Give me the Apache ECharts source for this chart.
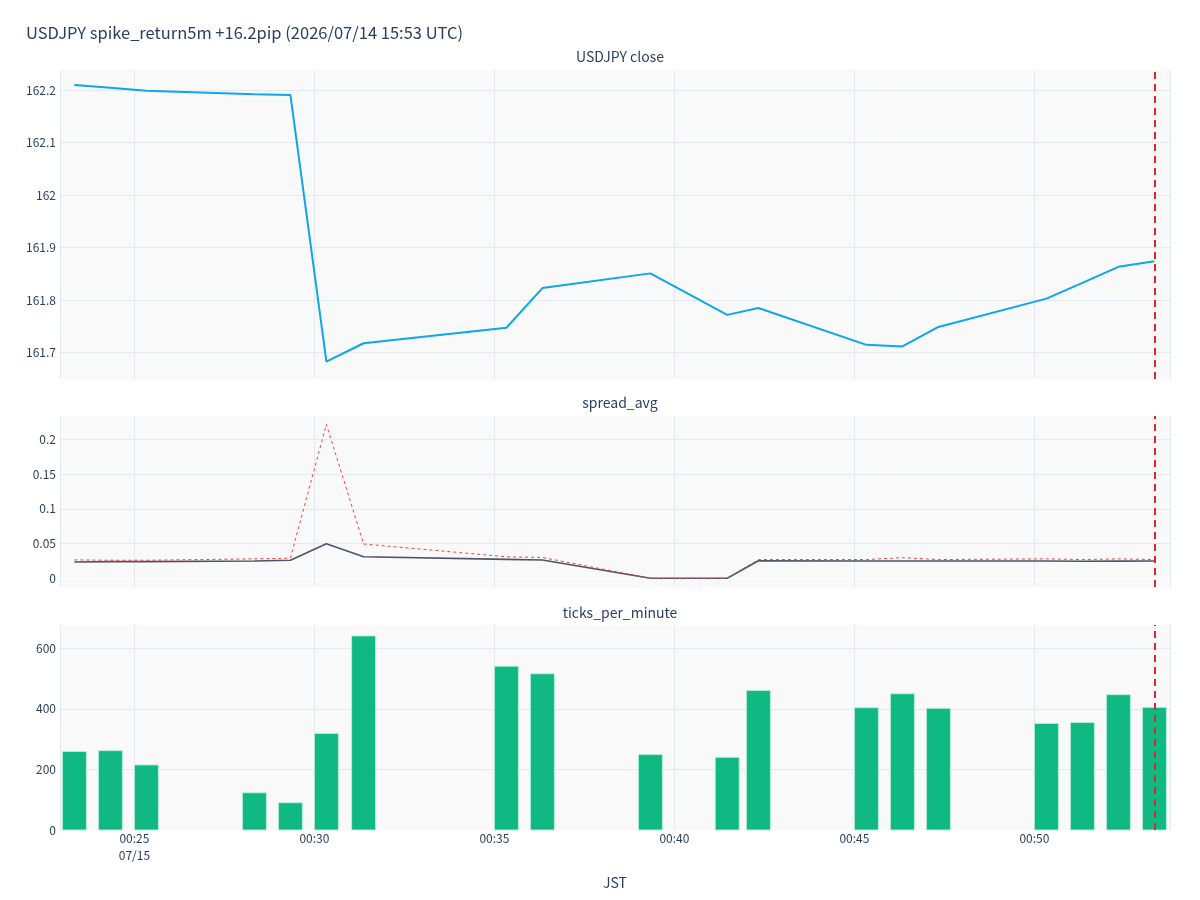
<!DOCTYPE html>
<html>
<head>
<meta charset="utf-8">
<script src="https://cdn.jsdelivr.net/npm/echarts@6/dist/echarts.min.js"></script>
<style>
  html, body { margin: 0; padding: 0; background: #fff; }
  #main { width: 1200px; height: 900px; }
</style>
</head>
<body>
<div id="main"></div>
<script>
// minute bars around the spike (JST)
const times = [
  "2026-07-15 00:23:20", "2026-07-15 00:24:20", "2026-07-15 00:25:20",
  "2026-07-15 00:28:20", "2026-07-15 00:29:20", "2026-07-15 00:30:20",
  "2026-07-15 00:31:22", "2026-07-15 00:35:20", "2026-07-15 00:36:20",
  "2026-07-15 00:39:20", "2026-07-15 00:41:28", "2026-07-15 00:42:20",
  "2026-07-15 00:45:20", "2026-07-15 00:46:20", "2026-07-15 00:47:20",
  "2026-07-15 00:50:20", "2026-07-15 00:51:20", "2026-07-15 00:52:20",
  "2026-07-15 00:53:20"
];
const closePrice = [
  162.2095, 162.204, 162.1987, 162.1917, 162.1905, 161.683, 161.718,
  161.7475, 161.823, 161.851, 161.772, 161.785, 161.715, 161.712,
  161.749, 161.803, 161.833, 161.8635, 161.874
];
const spreadAvg = [
  0.0235, 0.024, 0.024, 0.025, 0.026, 0.0498, 0.031, 0.0273, 0.0263,
  0.0, 0.0, 0.0253, 0.025, 0.025, 0.025, 0.025, 0.0245, 0.0248, 0.0249
];
const spreadMax = [
  0.0265, 0.026, 0.026, 0.028, 0.029, 0.2216, 0.0494, 0.031, 0.030,
  0.0, 0.0, 0.027, 0.027, 0.0297, 0.027, 0.028, 0.027, 0.028, 0.027
];
const ticksPerMinute = [
  259, 262, 215, 123, 90, 319, 641, 541, 516, 249, 240, 461,
  404, 450, 402, 352, 355, 447, 405
];
const eventTime = "2026-07-15 00:53:20";
const xMin = "2026-07-15 00:22:56";
const xMax = "2026-07-15 00:53:46";

const TXT = "#2a3f5f";
const GRID = "#e4e9f1";
const NONE = "rgba(0,0,0,0)";
const FONT = "Noto Sans CJK JP";

const chart = echarts.init(document.getElementById("main"));

const pair = (ys) => times.map((t, i) => [t, ys[i]]);
const xStartMs = new Date(xMin.replace(" ", "T")).getTime();

function xAxisFor(idx, showLabels) {
  return {
    type: "time", gridIndex: idx, min: xMin, max: xMax,
    // echarts rounds an exact 5 min down to 2 min steps, so ask a bit above
    minInterval: 330000, maxInterval: 330000,
    axisLine: { show: false }, axisTick: { show: false },
    splitLine: { show: true, lineStyle: { color: GRID, width: 1 } },
    axisLabel: {
      show: showLabels, color: TXT, fontSize: 12, fontFamily: FONT,
      showMinLabel: false, showMaxLabel: false, margin: 0, lineHeight: 17,
      formatter: function (v) {
        const d = new Date(v);
        const hh = String(d.getHours()).padStart(2, "0");
        const mm = String(d.getMinutes()).padStart(2, "0");
        let s = hh + ":" + mm;
        if (v - xStartMs < 300000) {
          s += "\n" + String(d.getMonth() + 1).padStart(2, "0") + "/" + String(d.getDate()).padStart(2, "0");
        }
        return s;
      }
    },
    name: idx === 2 ? "JST" : "",
    nameLocation: "middle", nameGap: 46,
    nameTextStyle: { color: TXT, fontSize: 14, fontFamily: FONT }
  };
}

const onStep = (v, step) => Math.abs(v / step - Math.round(v / step)) < 1e-6;

// split line colours for the spread axis: zero line white, every 0.05 grid
const spreadLineColors = [];
for (let i = 0; i < 20; i++) spreadLineColors.push(NONE);
spreadLineColors[1] = "#ffffff";
[5, 9, 13, 17].forEach(i => { spreadLineColors[i] = GRID; });

const eventLine = {
  silent: true, symbol: "none", label: { show: false },
  lineStyle: { color: "#e3262b", width: 2, type: [7, 5] },
  data: [{ xAxis: eventTime }]
};

// bars drawn as rects so the time axis is not widened for bar overflow
function renderBar(params, api) {
  const top = api.coord([api.value(0), api.value(1)]);
  const base = api.coord([api.value(0), 0]);
  return {
    type: "rect",
    shape: { x: top[0] - 12, y: top[1], width: 24, height: base[1] - top[1] },
    style: { fill: "#10b981", stroke: "rgba(190,240,220,0.9)", lineWidth: 1 }
  };
}

const option = {
  animation: false,
  backgroundColor: "#ffffff",
  textStyle: { fontFamily: FONT },
  title: [
    { text: "USDJPY spike_return5m +16.2pip (2026/07/14 15:53 UTC)", left: 21, top: 19,
      textStyle: { color: TXT, fontSize: 16.5, fontWeight: "normal", fontFamily: FONT } },
    { text: "USDJPY close", left: 615, textAlign: "center", top: 45,
      textStyle: { color: TXT, fontSize: 14, fontWeight: "normal", fontFamily: FONT } },
    { text: "spread_avg", left: 615, textAlign: "center", top: 391,
      textStyle: { color: TXT, fontSize: 14, fontWeight: "normal", fontFamily: FONT } },
    { text: "ticks_per_minute", left: 615, textAlign: "center", top: 601,
      textStyle: { color: TXT, fontSize: 14, fontWeight: "normal", fontFamily: FONT } }
  ],
  grid: [
    { left: 60, right: 30, top: 70, height: 309, show: true, backgroundColor: "#f9f9f9", borderWidth: 0 },
    { left: 60, right: 30, top: 416, height: 171, show: true, backgroundColor: "#f9f9f9", borderWidth: 0 },
    { left: 60, right: 30, top: 625, height: 205, show: true, backgroundColor: "#f9f9f9", borderWidth: 0 }
  ],
  xAxis: [xAxisFor(0, false), xAxisFor(1, false), xAxisFor(2, true)],
  yAxis: [
    {
      type: "value", gridIndex: 0, min: 161.65, max: 162.238, interval: 0.05,
      axisLine: { show: false }, axisTick: { show: false },
      splitLine: { lineStyle: { color: [NONE, GRID], width: 1 } },
      axisLabel: {
        color: TXT, fontSize: 12, fontFamily: FONT, margin: 4,
        formatter: v => onStep(v, 0.1) ? String(+v.toFixed(1)) : ""
      }
    },
    {
      type: "value", gridIndex: 1, min: -0.0125, max: 0.2336, interval: 0.0125,
      axisLine: { show: false }, axisTick: { show: false },
      splitLine: { lineStyle: { color: spreadLineColors, width: 1 } },
      axisLabel: {
        color: TXT, fontSize: 12, fontFamily: FONT, margin: 4,
        formatter: v => onStep(v, 0.05) ? String(+v.toFixed(2)) : ""
      }
    },
    {
      type: "value", gridIndex: 2, min: 0, max: 677, interval: 200,
      axisLine: { show: false }, axisTick: { show: false },
      splitLine: { lineStyle: { color: [NONE, GRID, GRID, GRID], width: 1 } },
      axisLabel: {
        color: TXT, fontSize: 12, fontFamily: FONT, margin: 4,
        formatter: v => onStep(v, 200) ? String(v) : ""
      }
    }
  ],
  series: [
    {
      name: "close", type: "line", xAxisIndex: 0, yAxisIndex: 0,
      data: pair(closePrice), showSymbol: false,
      lineStyle: { color: "#0ea5e9", width: 2 }, itemStyle: { color: "#0ea5e9" },
      markLine: eventLine
    },
    {
      name: "spread_avg", type: "line", xAxisIndex: 1, yAxisIndex: 1,
      data: pair(spreadAvg), showSymbol: false,
      lineStyle: { color: "#4b5567", width: 1.6 }, itemStyle: { color: "#4b5567" },
      markLine: eventLine
    },
    {
      name: "spread_max", type: "line", xAxisIndex: 1, yAxisIndex: 1,
      data: pair(spreadMax), showSymbol: false,
      lineStyle: { color: "#ef4444", width: 1, type: [3, 3] }, itemStyle: { color: "#ef4444" }
    },
    {
      name: "ticks_per_minute", type: "custom", xAxisIndex: 2, yAxisIndex: 2,
      data: pair(ticksPerMinute), encode: { x: 0, y: 1 },
      renderItem: renderBar, itemStyle: { color: "#10b981" },
      markLine: eventLine
    }
  ]
};

chart.setOption(option);
</script>
</body>
</html>
